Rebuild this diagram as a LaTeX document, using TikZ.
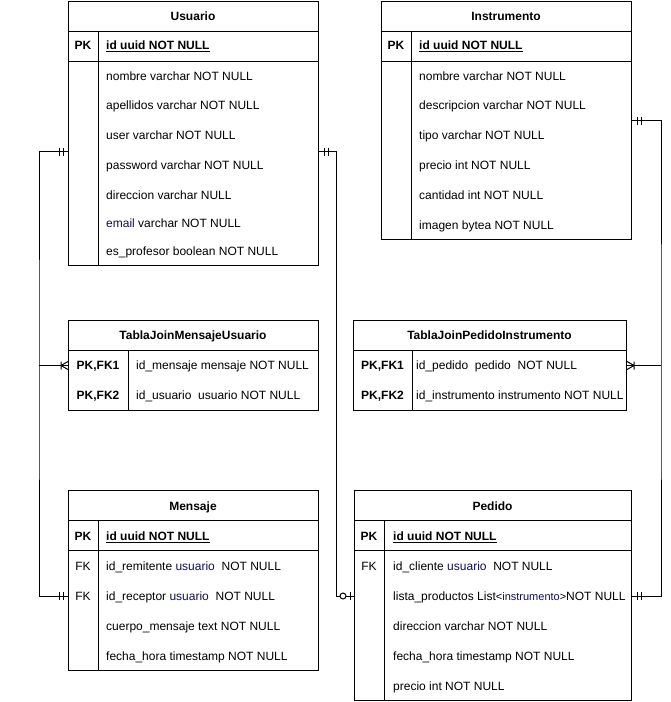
\documentclass[tikz,border=0pt]{standalone}
\usepackage{fontspec}
\setmainfont{Liberation Sans}
\usepackage{tikz}
\definecolor{navytext}{RGB}{15,15,80}

\tikzset{
  every node/.style={font=\fontsize{12}{14}\selectfont, inner sep=0pt},
  tabla/.style={draw, line width=1pt, anchor=north west, inner sep=0pt},
  titulo/.style={font=\fontsize{12}{14}\selectfont\bfseries, text height=8.6pt, text depth=0pt},
  campo/.style={anchor=west, text height=8.6pt, text depth=0pt},
  clave/.style={text height=8.6pt, text depth=0pt},
  clavebf/.style={clave, font=\fontsize{12}{14}\selectfont\bfseries},
  rel/.style={line width=1pt},
  unoobl/.pic={\draw[line width=1pt] (-5,-4) -- (-5,4) (-9,-4) -- (-9,4);},
  muchos/.pic={\draw[line width=1pt] (-7,-4) -- (-7,4) (0,-4) -- (-7,0) -- (0,4);},
  ceroouno/.pic={\draw[line width=1pt] (-3.5,-4) -- (-3.5,4);
    \draw[line width=1pt, fill=white] (-11,0) circle[radius=3pt];},
}
\newcommand{\pkid}{{\bfseries\underline{id uuid NOT NULL}}}

\begin{document}
\begin{tikzpicture}[x=1pt,y=-1pt]
  \useasboundingbox (0,0) rectangle (671,702);

  \node[tabla, minimum width=250pt, minimum height=264pt] (usuario) at (68,1) {};
  \draw[line width=1pt] (68,31) -- (318,31) (68,61) -- (318,61) (98,31) -- (98,265);
  \node[titulo] (usu-t) at (193,16) {Usuario};
  \node[clavebf] (usu-pk) at (83,45.5) {PK};
  \node[campo] (usu-id) at (106,45.5) {\pkid};
  \node[campo] (usu-nombre) at (106,76) {nombre varchar NOT NULL};
  \node[campo] (usu-apellidos) at (106,105.5) {apellidos varchar NOT NULL};
  \node[campo] (usu-user) at (106,135.5) {user varchar NOT NULL};
  \node[campo] (usu-password) at (106,165.5) {password varchar NOT NULL};
  \node[campo] (usu-direccion) at (106,195.5) {direccion varchar NULL};
  \node[campo] (usu-email) at (106,223) {\textcolor{navytext}{email} varchar NOT NULL};
  \node[campo] (usu-profesor) at (106,251) {es\_profesor boolean NOT NULL};

  \node[tabla, minimum width=250pt, minimum height=238pt] (instrumento) at (381,1) {};
  \draw[line width=1pt] (381,31) -- (631,31) (381,61) -- (631,61) (411,31) -- (411,239);
  \node[titulo] (ins-t) at (506,16) {Instrumento};
  \node[clavebf] (ins-pk) at (396,45.5) {PK};
  \node[campo] (ins-id) at (419,45.5) {\pkid};
  \node[campo] (ins-nombre) at (419,76) {nombre varchar NOT NULL};
  \node[campo] (ins-descripcion) at (419,105.5) {descripcion varchar NOT NULL};
  \node[campo] (ins-tipo) at (419,135.5) {tipo varchar NOT NULL};
  \node[campo] (ins-precio) at (419,165.5) {precio int NOT NULL};
  \node[campo] (ins-cantidad) at (419,195.5) {cantidad int NOT NULL};
  \node[campo] (ins-imagen) at (419,225.5) {imagen bytea NOT NULL};

  \node[tabla, minimum width=250pt, minimum height=90pt] (joinmu) at (68,320) {};
  \draw[line width=1pt] (68,350) -- (318,350) (128,350) -- (128,410);
  \node[titulo] (jmu-t) at (193,335.5) {TablaJoinMensajeUsuario};
  \node[clavebf] (fk1) at (98,365.5) {PK,FK1};
  \node[campo] (jmu-mensaje) at (136,365.5) {id\_mensaje mensaje NOT NULL};
  \node[clavebf] (fk2) at (98,395.5) {PK,FK2};
  \node[campo] (jmu-usuario) at (136,395.5) {id\_usuario\ \ usuario NOT NULL};

  \node[tabla, minimum width=273pt, minimum height=90pt] (joinpi) at (353,320) {};
  \draw[line width=1pt] (353,350) -- (626,350) (412,350) -- (412,410);
  \node[titulo] (jpi-t) at (489.5,335.5) {TablaJoinPedidoInstrumento};
  \node[clavebf] (pfk1) at (382.5,365.5) {PK,FK1};
  \node[campo] (jpi-pedido) at (416,365.5) {id\_pedido\ \ pedido\ \ NOT NULL};
  \node[clavebf] (pfk2) at (382.5,395.5) {PK,FK2};
  \node[campo] (jpi-instrumento) at (416,395.5) {id\_instrumento instrumento NOT NULL};

  \node[tabla, minimum width=250pt, minimum height=180pt] (mensaje) at (68,490) {};
  \draw[line width=1pt] (68,520) -- (318,520) (68,550) -- (318,550) (98,520) -- (98,670);
  \node[titulo] (men-t) at (193,506) {Mensaje};
  \node[clavebf] (men-pk) at (83,536) {PK};
  \node[campo] (men-id) at (106,536) {\pkid};
  \node[clave] (men-fk1) at (83,566) {FK};
  \node[campo] (remitente) at (106,566) {id\_remitente \textcolor{navytext}{usuario}\ \ NOT NULL};
  \node[clave] (men-fk2) at (83,596) {FK};
  \node[campo] (receptor) at (106,596) {id\_receptor \textcolor{navytext}{usuario}\ \ NOT NULL};
  \node[campo] (men-cuerpo) at (106,626) {cuerpo\_mensaje text NOT NULL};
  \node[campo] (men-fecha) at (106,656) {fecha\_hora timestamp NOT NULL};

  \node[tabla, minimum width=277pt, minimum height=210pt] (pedido) at (354,490) {};
  \draw[line width=1pt] (354,520) -- (631,520) (354,550) -- (631,550) (384,520) -- (384,700);
  \node[titulo] (ped-t) at (492.5,506) {Pedido};
  \node[clavebf] (ped-pk) at (369,536) {PK};
  \node[campo] (ped-id) at (393,536) {\pkid};
  \node[clave] (ped-fk) at (369,566) {FK};
  \node[campo] (cliente) at (393,566) {id\_cliente \textcolor{navytext}{usuario}\ \ NOT NULL};
  \node[campo] (lista) at (393,596) {lista\_productos List{\fontsize{11}{12}\selectfont\textless\textcolor{navytext}{instrumento}\textgreater}NOT NULL};
  \node[campo] (ped-direccion) at (393,626) {direccion varchar NOT NULL};
  \node[campo] (ped-fecha) at (393,656) {fecha\_hora timestamp NOT NULL};
  \node[campo] (ped-precio) at (393,686) {precio int NOT NULL};

  \coordinate (cizq) at (39,365.5);
  \coordinate (cder) at (661,365.5);
  \draw[rel] ([yshift=-18pt]usuario.west) -| (cizq) |- (mensaje.west |- receptor);
  \draw[rel] (cizq) -- (joinmu.west |- fk1);
  \draw[rel] ([yshift=-18pt]usuario.east) -| ([xshift=-18pt]pedido.west |- lista) -- (pedido.west |- lista);
  \draw[rel] (instrumento.east) -| (cder) |- (pedido.east |- lista);
  \draw[rel] (cder) -- (joinpi.east |- pfk1);

  \pic at ([yshift=-18pt]usuario.west) {unoobl};
  \pic at (mensaje.west |- receptor) {unoobl};
  \pic at (joinmu.west |- fk1) {muchos};
  \pic[xscale=-1] at ([yshift=-18pt]usuario.east) {unoobl};
  \pic at (pedido.west |- lista) {ceroouno};
  \pic[xscale=-1] at (instrumento.east) {unoobl};
  \pic[xscale=-1] at (pedido.east |- lista) {unoobl};
  \pic[xscale=-1] at (joinpi.east |- pfk1) {muchos};
\end{tikzpicture}
\end{document}
